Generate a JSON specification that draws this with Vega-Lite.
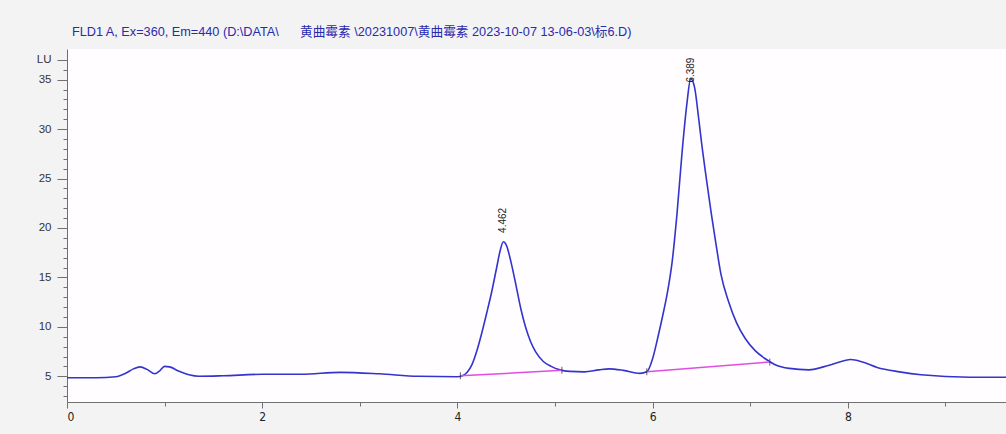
{
  "$schema": "https://vega.github.io/schema/vega-lite/v6.json",
  "width": 939,
  "height": 353,
  "autosize": {"type": "none"},
  "padding": {"left": 67, "top": 49, "right": 0, "bottom": 32},
  "background": "#f3f3f3",
  "config": {"view": {"fill": "#fffdff", "stroke": null}, "font": "Liberation Sans"},
  "title": {
    "text": "FLD1 A, Ex=360, Em=440 (D:\\DATA\\\u00a0\u00a0\u00a0\u00a0\u00a0\u00a0黄曲霉素 \\20231007\\黄曲霉素 2023-10-07 13-06-03\\标6.D)",
    "anchor": "start",
    "frame": "group",
    "dx": 5,
    "offset": 10,
    "fontSize": 12.7,
    "fontWeight": "normal",
    "font": "Liberation Sans, Noto Sans CJK SC",
    "color": "#2a2ab0"
  },
  "datasets": {
    "signal": [
      {"time": 0.0, "lu": 4.85}, {"time": 0.3, "lu": 4.85}, {"time": 0.5, "lu": 4.95}, {"time": 0.6, "lu": 5.3},
      {"time": 0.68, "lu": 5.75}, {"time": 0.75, "lu": 5.95}, {"time": 0.82, "lu": 5.7}, {"time": 0.9, "lu": 5.25},
      {"time": 0.95, "lu": 5.55}, {"time": 1.0, "lu": 6.0}, {"time": 1.05, "lu": 5.95}, {"time": 1.15, "lu": 5.5},
      {"time": 1.25, "lu": 5.15}, {"time": 1.35, "lu": 5.0}, {"time": 1.6, "lu": 5.05}, {"time": 2.0, "lu": 5.2},
      {"time": 2.4, "lu": 5.2}, {"time": 2.8, "lu": 5.4}, {"time": 3.2, "lu": 5.25}, {"time": 3.6, "lu": 5.0},
      {"time": 4.0, "lu": 4.95}, {"time": 4.05, "lu": 5.05}, {"time": 4.1, "lu": 5.4}, {"time": 4.15, "lu": 6.2},
      {"time": 4.2, "lu": 7.6}, {"time": 4.25, "lu": 9.4}, {"time": 4.3, "lu": 11.4}, {"time": 4.35, "lu": 13.5},
      {"time": 4.4, "lu": 15.9}, {"time": 4.44, "lu": 17.8}, {"time": 4.47, "lu": 18.6}, {"time": 4.5, "lu": 18.3},
      {"time": 4.55, "lu": 16.5}, {"time": 4.6, "lu": 14.2}, {"time": 4.65, "lu": 11.8}, {"time": 4.7, "lu": 9.9},
      {"time": 4.75, "lu": 8.5}, {"time": 4.8, "lu": 7.5}, {"time": 4.88, "lu": 6.5}, {"time": 4.96, "lu": 6.0},
      {"time": 5.05, "lu": 5.65}, {"time": 5.15, "lu": 5.5}, {"time": 5.3, "lu": 5.45}, {"time": 5.45, "lu": 5.65},
      {"time": 5.55, "lu": 5.75}, {"time": 5.7, "lu": 5.6}, {"time": 5.87, "lu": 5.3}, {"time": 5.94, "lu": 5.45},
      {"time": 6.0, "lu": 6.8}, {"time": 6.05, "lu": 8.8}, {"time": 6.1, "lu": 11.0}, {"time": 6.15, "lu": 13.4},
      {"time": 6.2, "lu": 16.6}, {"time": 6.25, "lu": 21.5}, {"time": 6.3, "lu": 27.5}, {"time": 6.35, "lu": 32.5},
      {"time": 6.39, "lu": 35.1}, {"time": 6.43, "lu": 34.2}, {"time": 6.47, "lu": 31.2}, {"time": 6.5, "lu": 28.7},
      {"time": 6.55, "lu": 25.0}, {"time": 6.6, "lu": 21.5}, {"time": 6.65, "lu": 18.3}, {"time": 6.7, "lu": 15.3},
      {"time": 6.78, "lu": 12.5}, {"time": 6.86, "lu": 10.4}, {"time": 6.95, "lu": 8.8}, {"time": 7.05, "lu": 7.6},
      {"time": 7.15, "lu": 6.8}, {"time": 7.25, "lu": 6.2}, {"time": 7.4, "lu": 5.8}, {"time": 7.6, "lu": 5.65},
      {"time": 7.8, "lu": 6.1}, {"time": 7.95, "lu": 6.55}, {"time": 8.03, "lu": 6.7}, {"time": 8.15, "lu": 6.45},
      {"time": 8.3, "lu": 5.9}, {"time": 8.53, "lu": 5.45}, {"time": 8.75, "lu": 5.15}, {"time": 9.25, "lu": 4.9},
      {"time": 9.62, "lu": 4.9}
    ],
    "baselines": [
      {"t1": 4.03, "lu1": 5.05, "t2": 5.07, "lu2": 5.6},
      {"t1": 5.94, "lu1": 5.45, "t2": 7.2, "lu2": 6.45}
    ],
    "marks": [
      {"time": 4.03, "lu": 5.05}, {"time": 5.07, "lu": 5.6}, {"time": 5.94, "lu": 5.45}, {"time": 7.2, "lu": 6.45}
    ],
    "peaks": [
      {"rt": 4.462, "label_at": 19.5, "label": "4.462"},
      {"rt": 6.389, "label_at": 34.7, "label": "6.389"}
    ]
  },
  "layer": [
    {
      "data": {"name": "signal"},
      "mark": {"type": "line", "interpolate": "monotone", "color": "#3434cc", "strokeWidth": 1.6, "clip": true},
      "encoding": {
        "x": {
          "field": "time", "type": "quantitative",
          "scale": {"domain": [0, 9.62], "nice": false, "zero": false},
          "axis": {
            "title": null,
            "values": [0, 0.5, 1, 1.5, 2, 2.5, 3, 3.5, 4, 4.5, 5, 5.5, 6, 6.5, 7, 7.5, 8, 8.5, 9, 9.5],
            "tickCount": 100,
            "format": "d",
            "labelExpr": "datum.value % 2 === 0 ? datum.label : ''",
            "labelOverlap": false,
            "tickSize": {"condition": {"test": "datum.value % 2 === 0", "value": 6}, "value": 4},
            "domainColor": "#707070",
            "tickColor": "#707070",
            "labelColor": "#222222",
            "labelFont": "Liberation Sans Narrow, DejaVu Sans Condensed, Liberation Sans",
            "labelFontSize": 12,
            "labelPadding": 3,
            "grid": false
          }
        },
        "y": {
          "field": "lu", "type": "quantitative",
          "scale": {"domain": [2.4, 38.1], "nice": false, "zero": false},
          "axis": {
            "title": null,
            "values": [3, 4, 5, 6, 7, 8, 9, 10, 11, 12, 13, 14, 15, 16, 17, 18, 19, 20, 21, 22, 23, 24, 25, 26, 27, 28, 29, 30, 31, 32, 33, 34, 35, 36, 37],
            "tickCount": 100,
            "format": "d",
            "labelExpr": "datum.value === 37 ? 'LU' : (datum.value % 5 === 0 ? datum.label : '')",
            "labelOverlap": false,
            "tickSize": {"condition": {"test": "datum.value % 5 === 0 || datum.value === 37", "value": 10}, "value": 4},
            "domainColor": "#707070",
            "tickColor": "#707070",
            "labelColor": "#333333",
            "labelFontSize": 11.5,
            "labelPadding": 6,
            "grid": false
          }
        }
      }
    },
    {
      "data": {"name": "baselines"},
      "mark": {"type": "rule", "color": "#e04ee0", "strokeWidth": 1.5},
      "encoding": {
        "x": {"field": "t1", "type": "quantitative"},
        "y": {"field": "lu1", "type": "quantitative"},
        "x2": {"field": "t2"},
        "y2": {"field": "lu2"}
      }
    },
    {
      "data": {"name": "marks"},
      "mark": {"type": "tick", "orient": "vertical", "color": "#222222", "size": 7, "thickness": 1},
      "encoding": {
        "x": {"field": "time", "type": "quantitative"},
        "y": {"field": "lu", "type": "quantitative"}
      }
    },
    {
      "data": {"name": "peaks"},
      "mark": {"type": "text", "angle": 270, "align": "left", "baseline": "middle", "fontSize": 10, "color": "#222222"},
      "encoding": {
        "x": {"field": "rt", "type": "quantitative"},
        "y": {"field": "label_at", "type": "quantitative"},
        "text": {"field": "label"}
      }
    }
  ]
}
